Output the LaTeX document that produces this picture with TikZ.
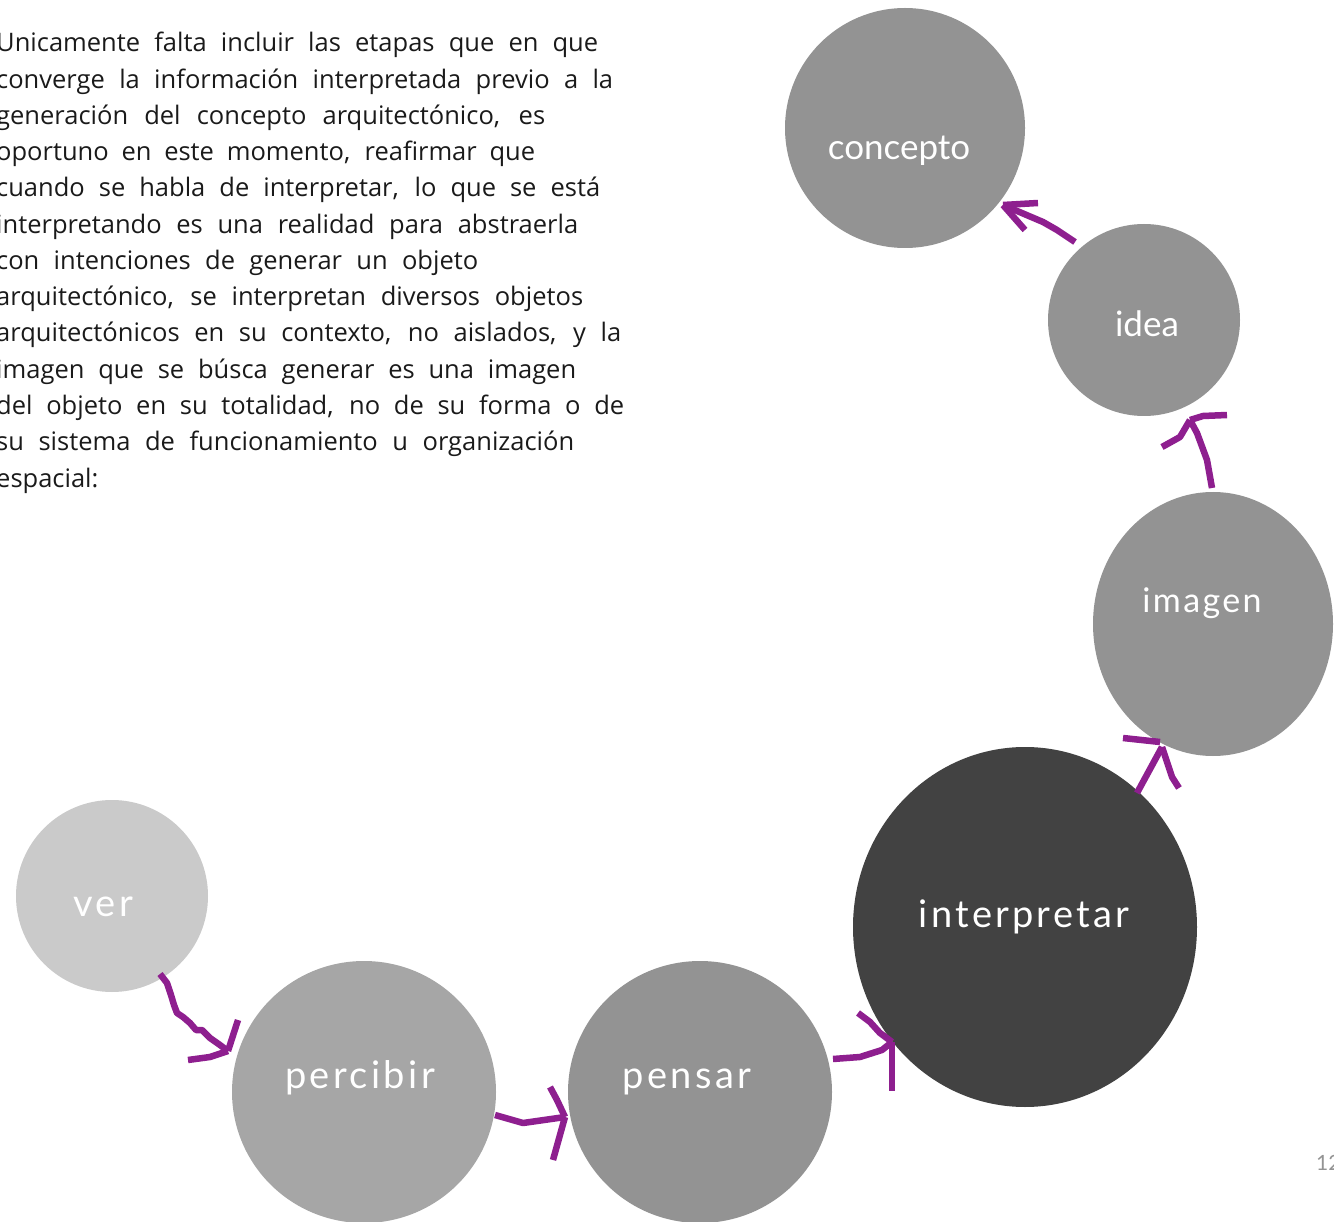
\documentclass[tikz,border=0pt]{standalone}
\usepackage{fontspec}
\setmainfont{Lato}
\newfontfamily\bodyfont{Open Sans}
\usetikzlibrary{shapes.geometric}
\definecolor{arrowc}{HTML}{8E1F8F}
\definecolor{gmid}{HTML}{939393}
\definecolor{glight}{HTML}{A6A6A6}
\definecolor{gpale}{HTML}{CACACA}
\definecolor{gdark}{HTML}{424242}
\definecolor{bodyc}{HTML}{1A1A1A}
\begin{document}
\begin{tikzpicture}[x=1pt,y=-1pt,
  stage/.style={ellipse, inner sep=0pt, draw=none},
  lbl/.style={anchor=base, inner sep=0pt, text=white},
  bodyline/.style={anchor=base west, inner sep=0pt, text=bodyc, font=\bodyfont\fontsize{25.5}{30}\selectfont},
  stroke/.style={draw=arrowc, line width=6.5pt, line join=round}]
\useasboundingbox (0,0) rectangle (1334,1222);
\clip (0,0) rectangle (1334,1222);
% body text
\foreach \w/\t [count=\i from 0] in {
 602/{Unicamente falta incluir las etapas que en que},
 617/{converge la información interpretada previo a la},
 549/{generación del concepto arquitectónico, es},
 539/{oportuno en este momento, reafirmar que},
 604/{cuando se habla de interpretar, lo que se está},
 582/{interpretando es una realidad para abstraerla},
 482/{con intenciones de generar un objeto},
 587/{arquitectónico, se interpretan diversos objetos},
 625/{arquitectónicos en su contexto, no aislados, y la},
 580/{imagen que se búsca generar es una imagen},
 628/{del objeto en su totalidad, no de su forma o de},
 578/{su sistema de funcionamiento u organización}}
 \node[bodyline] (line\i) at (-4,{52+36.25*\i}) {\makebox[\w pt][s]{\t}};
\node[bodyline] (line12) at (-4,487) {espacial:};
% stages
\node[stage, fill=gmid, minimum width=240pt, minimum height=240pt] (concepto) at (905,128) {};
\node[stage, fill=gmid, minimum width=192pt, minimum height=192pt] (idea) at (1144,320) {};
\node[stage, fill=gmid, minimum width=240pt, minimum height=264pt] (imagen) at (1213,624) {};
\node[stage, fill=gdark, minimum width=344pt, minimum height=360pt] (interpretar) at (1025,927) {};
\node[stage, fill=gmid, minimum width=264pt, minimum height=262pt] (pensar) at (700,1092) {};
\node[stage, fill=glight, minimum width=264pt, minimum height=262pt] (percibir) at (364,1092) {};
\node[stage, fill=gpale, minimum width=192pt, minimum height=192pt] (ver) at (112,896) {};
% labels
\node[lbl, font=\fontsize{35}{38}\selectfont] (tconcepto) at (899,160) {concepto};
\node[lbl, font=\fontsize{35}{38}\selectfont] (tidea) at (1147,337) {idea};
\node[lbl, font=\fontsize{34}{38}\selectfont\addfontfeatures{LetterSpace=7}] (timagen) at (1202,612) {imagen};
\node[lbl, font=\fontsize{38}{42}\selectfont\addfontfeatures{LetterSpace=8.5}] (tinterpretar) at (1024,927) {interpretar};
\node[lbl, font=\fontsize{38}{42}\selectfont\addfontfeatures{LetterSpace=9}] (tpensar) at (687,1088) {pensar};
\node[lbl, font=\fontsize{38}{42}\selectfont\addfontfeatures{LetterSpace=9}] (tpercibir) at (360,1088) {percibir};
\node[lbl, font=\fontsize{38}{42}\selectfont\addfontfeatures{LetterSpace=9}] (tver) at (103,916) {ver};
\node[anchor=base west, inner sep=0pt, text=gmid, font=\fontsize{21}{24}\selectfont] (pagenum) at (1316,1170) {12};
% arrows: ver -> percibir
\coordinate (a1s) at (160,974);
\coordinate (a1t) at (228,1051);
\draw[stroke] (a1s) -- (167,983) -- (171,995) -- (174,1005) -- (177,1013) -- (183,1017) -- (190,1023) -- (196,1030) -- (202,1030) -- (210,1038) -- (220,1045) -- (a1t);
\draw[stroke] (238,1020) -- (a1t);
\draw[stroke] (188,1060) -- (210,1057) -- (a1t);
% percibir -> pensar
\coordinate (a2s) at (495,1115);
\coordinate (a2t) at (565,1117);
\draw[stroke] (a2s) -- (523,1123) -- (a2t);
\draw[stroke] (550,1087) -- (557,1100) -- (a2t);
\draw[stroke] (a2t) -- (553,1160);
% pensar -> interpretar
\coordinate (a3s) at (833,1059);
\coordinate (a3t) at (892,1042);
\draw[stroke] (a3s) -- (860,1057) -- (882,1050) -- (a3t);
\draw[stroke] (858,1013) -- (870,1022) -- (880,1033) -- (a3t);
\draw[stroke] (a3t) -- (892,1091);
% interpretar -> imagen
\coordinate (a4s) at (1137,793);
\coordinate (a4t) at (1162,747);
\draw[stroke] (a4s) -- (a4t);
\draw[stroke] (1123,738) -- (1160,742);
\draw[stroke] (a4t) -- (1172,777) -- (1179,788);
% imagen -> idea
\coordinate (a5s) at (1212,488);
\coordinate (a5t) at (1190,420);
\draw[stroke] (a5s) -- (1207,460) -- (1197,433) -- (a5t);
\draw[stroke] (a5t) -- (1203,416) -- (1227,415);
\draw[stroke] (a5t) -- (1180,437) -- (1162,447);
% idea -> concepto
\coordinate (a6s) at (1075,242);
\coordinate (a6t) at (1003,205);
\draw[stroke] (a6s) -- (1057,230) -- (1043,222) -- (a6t);
\draw[stroke] (a6t) -- (1038,203);
\draw[stroke] (a6t) -- (1025,230);
\end{tikzpicture}
\end{document}
